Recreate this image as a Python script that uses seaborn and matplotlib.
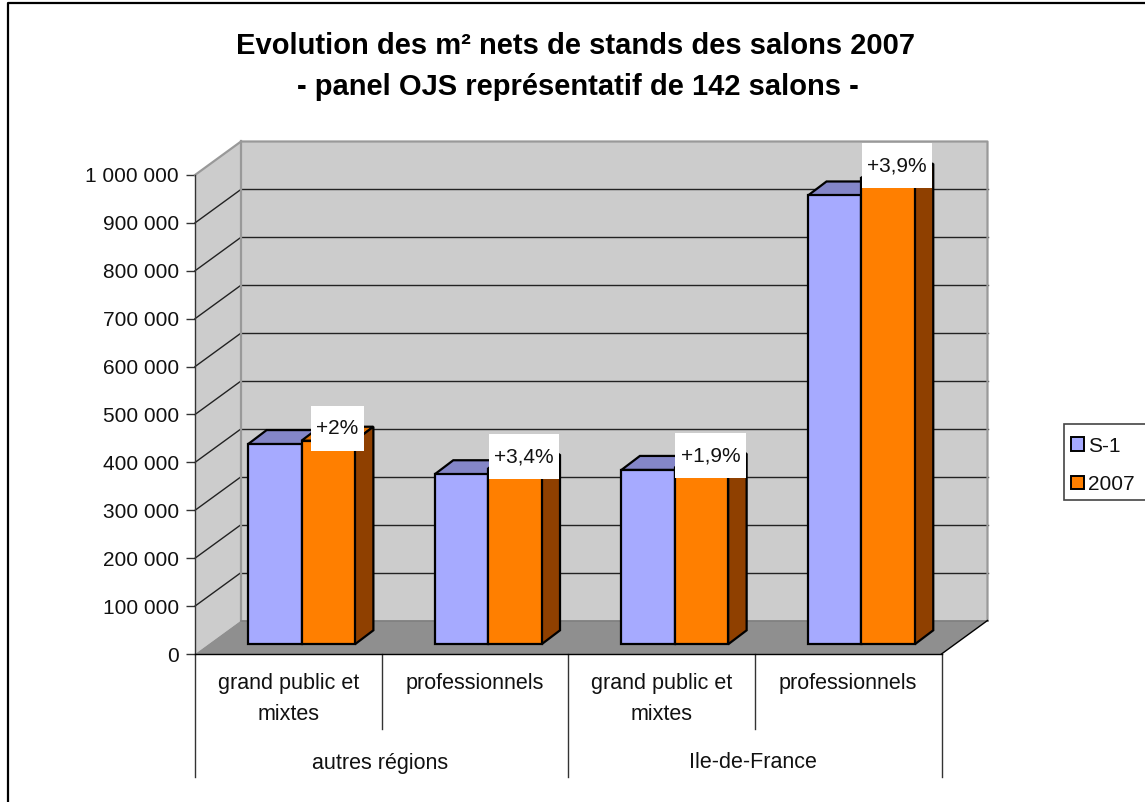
import matplotlib
matplotlib.use('Agg')
import matplotlib.pyplot as plt
import pandas as pd
import seaborn as sns
from matplotlib.patches import Polygon, Rectangle, Patch
from matplotlib.lines import Line2D

# Values
regions = ['autres régions', 'autres régions', 'Ile-de-France', 'Ile-de-France']
segments = ['grand public et\nmixtes', 'professionnels', 'grand public et\nmixtes', 'professionnels']
s1_values = [418000, 355000, 364000, 937000]
y2007_values = [425000, 367000, 369000, 974000]
growth_labels = ['+2%', '+3,4%', '+1,9%', '+3,9%']
series_names = ['S-1', '2007']
series_colors = ['#A6AAFF', '#FF7F00']
top_colors = ['#8486C8', '#E07000']
side_colors = ['#6F70B0', '#8F4000']
y_ticks = [0, 100000, 200000, 300000, 400000, 500000, 600000, 700000, 800000, 900000, 1000000]

WALL = '#CCCCCC'
FLOOR = '#8F8F8F'
EDGE = '#999999'

W, H = 1145, 802
sns.set_theme(style='white')
plt.rcParams['font.family'] = ['Liberation Sans', 'DejaVu Sans']

fig = plt.figure(figsize=(W / 100, H / 100), dpi=100, facecolor='white')
ax = fig.add_axes([195 / W, 1 - 654 / H, 746.5 / W, 479 / H])

# seaborn needs unique categories, region + segment
df = pd.DataFrame({
    'cat': [r + s for r, s in zip(regions, segments)] * 2,
    'value': s1_values + y2007_values,
    'serie': [series_names[0]] * 4 + [series_names[1]] * 4,
})
sns.barplot(data=df, x='cat', y='value', hue='serie', palette=series_colors,
            width=0.572, edgecolor='black', linewidth=1.6, saturation=1,
            legend=False, ax=ax, zorder=5)
ax.set_xlim(-0.5, 3.5)
ax.set_ylim(0, 1000000)

# pixel sizes expressed in data units
px_x = 4 / 746.5
px_y = 1000000 / 479
wall_dx, wall_dy = 46 * px_x, 33.5 * px_y
bar_dx, bar_dy = 13.2 * px_x, 9.7 * px_y
depth_dx, depth_dy = 18.5 * px_x, 14 * px_y


def face(points, color, z, edge='none', lw=0):
    ax.add_patch(Polygon(points, closed=True, facecolor=color, edgecolor=edge,
                         linewidth=lw, zorder=z, clip_on=False))


def line(xs, ys, color='#222222', lw=1.0, z=1.5):
    ax.add_line(Line2D(xs, ys, color=color, linewidth=lw, zorder=z, clip_on=False,
                       solid_capstyle='projecting'))


x0, x1 = -0.5, 3.5
top = 1000000

# left wall, back wall and floor
face([(x0, 0), (x0 + wall_dx, wall_dy), (x0 + wall_dx, top + wall_dy), (x0, top)], WALL, 0.5)
face([(x0 + wall_dx, wall_dy), (x1 + wall_dx, wall_dy), (x1 + wall_dx, top + wall_dy),
      (x0 + wall_dx, top + wall_dy)], WALL, 0.5)
face([(x0, 0), (x1, 0), (x1 + wall_dx, wall_dy), (x0 + wall_dx, wall_dy)], FLOOR, 1)

# gridlines on both walls
for t in y_ticks[1:-1]:
    line([x0, x0 + wall_dx], [t, t + wall_dy])
    line([x0 + wall_dx, x1 + wall_dx], [t + wall_dy, t + wall_dy])

# wall outlines
line([x0, x0 + wall_dx, x1 + wall_dx, x1 + wall_dx],
     [top, top + wall_dy, top + wall_dy, wall_dy], color=EDGE, lw=1.6, z=2)
line([x0 + wall_dx, x0 + wall_dx], [wall_dy, top + wall_dy], color=EDGE, lw=1.6, z=2)
line([x0 + wall_dx, x1 + wall_dx], [wall_dy, wall_dy], color='#808080', lw=1.2, z=2)
line([x1, x1 + wall_dx], [0, wall_dy], color='black', lw=1.0, z=2)

# shift the bars back on the floor and add their depth faces
for k, container in enumerate(ax.containers):
    for bar in container:
        bar.set_x(bar.get_x() + bar_dx)
        bar.set_y(bar_dy)
        bar.set_zorder(5 + 2 * k)
        left = bar.get_x()
        right = left + bar.get_width()
        bottom = bar_dy
        high = bar_dy + bar.get_height()
        z = 4 + 2 * k
        face([(left, high), (right, high), (right + depth_dx, high + depth_dy),
              (left + depth_dx, high + depth_dy)], top_colors[k], z, 'black', 1.6)
        face([(right, bottom), (right + depth_dx, bottom + depth_dy),
              (right + depth_dx, high + depth_dy), (right, high)], side_colors[k], z, 'black', 1.6)

# axes, ticks
for s in ['top', 'right']:
    ax.spines[s].set_visible(False)
ax.spines['left'].set_color('#333333')
ax.spines['bottom'].set_color('black')
ax.spines['left'].set_linewidth(1.0)
ax.spines['bottom'].set_linewidth(1.0)
ax.spines['left'].set_zorder(3)
ax.spines['bottom'].set_zorder(3)
ax.set_facecolor('none')
ax.set_yticks(y_ticks)
ax.set_yticklabels([f'{t:,}'.replace(',', ' ') for t in y_ticks], fontsize=15, color='#111111')
ax.tick_params(axis='y', left=True, length=6.5, width=1.0, color='#333333', pad=5)
ax.set_xticks(range(4))
ax.set_xticklabels(segments, fontsize=15.5, color='#111111', linespacing=1.6)
ax.tick_params(axis='x', bottom=False, pad=8)
ax.set_xlabel('')
ax.set_ylabel('')

# two-level category separators below the axis
for x, depth in [(-0.5, 123), (0.5, 75), (1.5, 123), (2.5, 75), (3.5, 123)]:
    line([x, x], [0, -depth * px_y], color='#333333', lw=1.0)
ax.text(0.5 - 2 * px_x, -109 * px_y, regions[0], ha='center', va='center', fontsize=15.5, color='#111111')
ax.text(2.5 - 2 * px_x, -109 * px_y, regions[2], ha='center', va='center', fontsize=15.5, color='#111111')

# growth labels on white boxes, above the orange bars
fig.canvas.draw()
renderer = fig.canvas.get_renderer()
for bar, lab in zip(ax.containers[1], growth_labels):
    cx = bar.get_x() + bar.get_width() / 2 + 9 * px_x
    cy = bar_dy + bar.get_height() + 12 * px_y
    txt = ax.text(cx, cy, lab, ha='center', va='center', fontsize=15, color='#111111',
                  zorder=11, clip_on=False)
    w = txt.get_window_extent(renderer).width + 11
    ax.add_patch(Rectangle((cx - w / 2 * px_x, cy - 22.5 * px_y), w * px_x, 45 * px_y,
                           facecolor='white', edgecolor='none', zorder=10, clip_on=False))

# title
fig.text(576 / W, 1 - 46 / H, 'Evolution des m² nets de stands des salons 2007',
         ha='center', va='center', fontsize=21, fontweight='bold', color='black')
fig.text(578 / W, 1 - 87 / H, '- panel OJS représentatif de 142 salons -',
         ha='center', va='center', fontsize=21, fontweight='bold', color='black')

# outer chart frame, runs off the right and bottom of the picture
fig.add_artist(Line2D([1, 8 / W, 8 / W], [1 - 3 / H, 1 - 3 / H, 0], color='black',
                      linewidth=1.6, transform=fig.transFigure))

# legend frame is open on the right, it leaves the picture there
fig.add_artist(Rectangle((1063.5 / W, 1 - 500 / H), 90 / W, 76 / H, facecolor='white',
                         edgecolor='#444444', linewidth=1.2, transform=fig.transFigure))
handles = [Patch(facecolor=c, edgecolor='black', linewidth=1.4, label=n)
           for c, n in zip(series_colors, series_names)]
leg = fig.legend(handles=handles, loc='upper left', bbox_to_anchor=(1071 / W, 1 - 436.5 / H),
                 borderaxespad=0, fontsize=15, frameon=False,
                 handlelength=0.62, handleheight=0.62, handletextpad=0.2,
                 labelspacing=0.93, borderpad=0)
for t in leg.get_texts():
    t.set_color('#111111')

fig.savefig('out.png', dpi=100)
